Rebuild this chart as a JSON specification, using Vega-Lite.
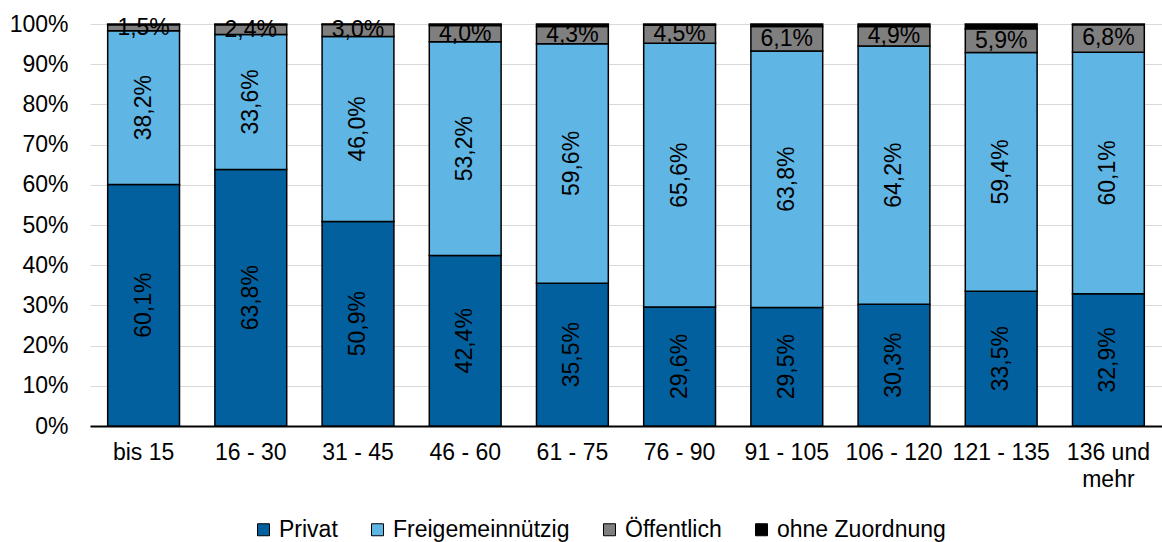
{
  "$schema": "https://vega.github.io/schema/vega-lite/v6.json",
  "width": 1072,
  "height": 402,
  "autosize": {"type": "none"},
  "padding": {"left": 90, "top": 24, "right": 0, "bottom": 116},
  "config": {
    "locale": {"number": {"decimal": ",", "thousands": ".", "grouping": [3], "currency": ["", " €"]}},
    "view": {"stroke": null},
    "font": "Liberation Sans"
  },
  "data": {"values": [
    {"cat": "bis 15", "grp": "Privat", "ord": 1, "v": 0.601},
    {"cat": "bis 15", "grp": "Freigemeinnützig", "ord": 2, "v": 0.382},
    {"cat": "bis 15", "grp": "Öffentlich", "ord": 3, "v": 0.015},
    {"cat": "bis 15", "grp": "ohne Zuordnung", "ord": 4, "v": 0.002},
    {"cat": "16 - 30", "grp": "Privat", "ord": 1, "v": 0.638},
    {"cat": "16 - 30", "grp": "Freigemeinnützig", "ord": 2, "v": 0.336},
    {"cat": "16 - 30", "grp": "Öffentlich", "ord": 3, "v": 0.024},
    {"cat": "16 - 30", "grp": "ohne Zuordnung", "ord": 4, "v": 0.002},
    {"cat": "31 - 45", "grp": "Privat", "ord": 1, "v": 0.509},
    {"cat": "31 - 45", "grp": "Freigemeinnützig", "ord": 2, "v": 0.460},
    {"cat": "31 - 45", "grp": "Öffentlich", "ord": 3, "v": 0.030},
    {"cat": "31 - 45", "grp": "ohne Zuordnung", "ord": 4, "v": 0.001},
    {"cat": "46 - 60", "grp": "Privat", "ord": 1, "v": 0.424},
    {"cat": "46 - 60", "grp": "Freigemeinnützig", "ord": 2, "v": 0.532},
    {"cat": "46 - 60", "grp": "Öffentlich", "ord": 3, "v": 0.040},
    {"cat": "46 - 60", "grp": "ohne Zuordnung", "ord": 4, "v": 0.004},
    {"cat": "61 - 75", "grp": "Privat", "ord": 1, "v": 0.355},
    {"cat": "61 - 75", "grp": "Freigemeinnützig", "ord": 2, "v": 0.596},
    {"cat": "61 - 75", "grp": "Öffentlich", "ord": 3, "v": 0.043},
    {"cat": "61 - 75", "grp": "ohne Zuordnung", "ord": 4, "v": 0.006},
    {"cat": "76 - 90", "grp": "Privat", "ord": 1, "v": 0.296},
    {"cat": "76 - 90", "grp": "Freigemeinnützig", "ord": 2, "v": 0.656},
    {"cat": "76 - 90", "grp": "Öffentlich", "ord": 3, "v": 0.045},
    {"cat": "76 - 90", "grp": "ohne Zuordnung", "ord": 4, "v": 0.003},
    {"cat": "91 - 105", "grp": "Privat", "ord": 1, "v": 0.295},
    {"cat": "91 - 105", "grp": "Freigemeinnützig", "ord": 2, "v": 0.638},
    {"cat": "91 - 105", "grp": "Öffentlich", "ord": 3, "v": 0.061},
    {"cat": "91 - 105", "grp": "ohne Zuordnung", "ord": 4, "v": 0.006},
    {"cat": "106 - 120", "grp": "Privat", "ord": 1, "v": 0.303},
    {"cat": "106 - 120", "grp": "Freigemeinnützig", "ord": 2, "v": 0.642},
    {"cat": "106 - 120", "grp": "Öffentlich", "ord": 3, "v": 0.049},
    {"cat": "106 - 120", "grp": "ohne Zuordnung", "ord": 4, "v": 0.006},
    {"cat": "121 - 135", "grp": "Privat", "ord": 1, "v": 0.335},
    {"cat": "121 - 135", "grp": "Freigemeinnützig", "ord": 2, "v": 0.594},
    {"cat": "121 - 135", "grp": "Öffentlich", "ord": 3, "v": 0.059},
    {"cat": "121 - 135", "grp": "ohne Zuordnung", "ord": 4, "v": 0.012},
    {"cat": "136 und mehr", "grp": "Privat", "ord": 1, "v": 0.329},
    {"cat": "136 und mehr", "grp": "Freigemeinnützig", "ord": 2, "v": 0.601},
    {"cat": "136 und mehr", "grp": "Öffentlich", "ord": 3, "v": 0.068},
    {"cat": "136 und mehr", "grp": "ohne Zuordnung", "ord": 4, "v": 0.002}
  ]},
  "encoding": {
    "x": {
      "field": "cat", "type": "nominal",
      "sort": ["bis 15", "16 - 30", "31 - 45", "46 - 60", "61 - 75", "76 - 90", "91 - 105", "106 - 120", "121 - 135", "136 und mehr"],
      "scale": {"paddingInner": 0.33, "paddingOuter": 0.165},
      "axis": {
        "title": null, "labelAngle": 0, "ticks": false,
        "domainColor": "#000000", "domainWidth": 2,
        "labelFontSize": 23, "labelColor": "#000000", "labelPadding": 15,
        "labelLineHeight": 27,
        "labelExpr": "datum.value == '136 und mehr' ? ['136 und', 'mehr'] : datum.value"
      }
    }
  },
  "layer": [
    {
      "mark": {"type": "bar", "stroke": "#000000", "strokeWidth": 1.5},
      "encoding": {
        "y": {
          "field": "v", "type": "quantitative", "stack": "zero",
          "scale": {"domain": [0, 1], "nice": false},
          "axis": {
            "title": null, "format": ".0%", "values": [0, 0.1, 0.2, 0.3, 0.4, 0.5, 0.6, 0.7, 0.8, 0.9, 1],
            "domain": false, "ticks": false, "gridColor": "#d9d9d9", "gridWidth": 1,
            "labelFontSize": 23, "labelColor": "#000000", "labelPadding": 22
          }
        },
        "color": {
          "field": "grp", "type": "nominal",
          "scale": {"domain": ["Privat", "Freigemeinnützig", "Öffentlich", "ohne Zuordnung"], "range": ["#03609f", "#5fb6e5", "#7f7f7f", "#000000"]},
          "legend": {
            "title": null, "orient": "none", "legendX": 162, "legendY": 494,
            "direction": "horizontal", "columns": 4, "columnPadding": 28,
            "symbolType": "square", "symbolSize": 144, "symbolStrokeColor": "#000000", "symbolStrokeWidth": 1, "symbolOpacity": 1,
            "labelFontSize": 23, "labelColor": "#000000", "labelOffset": 4, "labelLimit": 0
          }
        },
        "order": {"field": "ord", "type": "quantitative"}
      }
    },
    {
      "transform": [
        {"stack": "v", "groupby": ["cat"], "sort": [{"field": "ord"}], "as": ["y0", "y1"]},
        {"calculate": "(datum.y0 + datum.y1) / 2", "as": "ymid"},
        {"filter": "datum.ord <= 2"}
      ],
      "mark": {"type": "text", "angle": 270, "fontSize": 23, "color": "#000000", "baseline": "middle", "align": "center"},
      "encoding": {
        "y": {"field": "ymid", "type": "quantitative"},
        "text": {"field": "v", "type": "quantitative", "format": ".1%"}
      }
    },
    {
      "transform": [
        {"stack": "v", "groupby": ["cat"], "sort": [{"field": "ord"}], "as": ["y0", "y1"]},
        {"calculate": "(datum.y0 + datum.y1) / 2", "as": "ymid"},
        {"filter": "datum.ord == 3"}
      ],
      "mark": {"type": "text", "fontSize": 23, "color": "#000000", "baseline": "middle", "align": "center"},
      "encoding": {
        "y": {"field": "ymid", "type": "quantitative"},
        "text": {"field": "v", "type": "quantitative", "format": ".1%"}
      }
    }
  ]
}
